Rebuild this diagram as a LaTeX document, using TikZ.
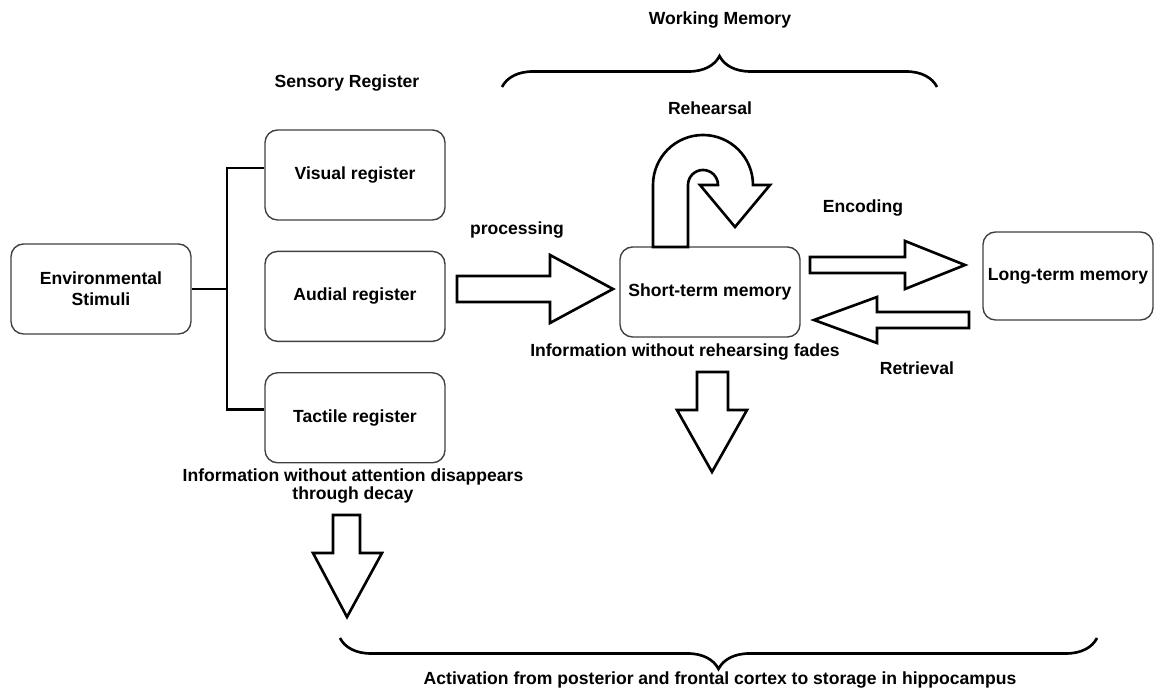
\documentclass[tikz,border=0pt]{standalone}
\usepackage{fontspec}
\setmainfont{Liberation Sans}
\usetikzlibrary{positioning,decorations.pathreplacing}

\begin{document}
\begin{tikzpicture}[
    x=0.02cm, y=-0.02cm,
    font=\bfseries\fontsize{10}{12}\selectfont,
    box/.style={draw=black!75, line width=0.8pt, rounded corners=0.25cm, align=center, minimum height=1.8cm, minimum width=3.6cm},
    link/.style={line width=1.6pt},
    hollow/.style={draw, line width=1.5pt, fill=white, line join=miter},
    brace/.style={decorate, decoration={brace, amplitude=0.62cm}, line width=1.5pt},
    lbl/.style={align=center, inner sep=1pt}
  ]
    \useasboundingbox (0,0) rectangle (1154,688);

    % boxes
    \node[box] (env) at (101,289) {Environmental\\Stimuli};
    \node[box] (vis) at (355,175) {Visual register};
    \node[box, below=0.6cm of vis] (aud) {Audial register};
    \node[box, below=0.6cm of aud] (tac) {Tactile register};
    \node[box] (stm) at (710,292) {Short-term memory};
    \node[box, minimum width=3.4cm, minimum height=1.76cm, inner xsep=0pt] (ltm) at (1068,276) {Long-term memory};

    % labels
    \node[lbl] (wmlbl) at (720,20) {Working Memory};
    \node[lbl] (srlbl) at (347,83) {Sensory Register};
    \node[lbl] (rehlbl) at (710,108) {Rehearsal};
    \node[lbl] (proclbl) at (517,230) {processing};
    \node[lbl] (enclbl) at (863,208) {Encoding};
    \node[lbl] (retlbl) at (917,368) {Retrieval};
    \node[lbl] (fadelbl) at (685,352) {Information without rehearsing fades};
    \node[lbl, font=\bfseries\fontsize{10}{8.5}\selectfont] (decaylbl) at (353,486) {Information without attention disappears\\through decay};
    \node[lbl] (actlbl) at (720,680) {Activation from posterior and frontal cortex to storage in hippocampus};

    % stimuli to registers
    \coordinate (fork) at (227,289);
    \draw[link] (env.east) -- (fork);
    \draw[link] ([yshift=0.14cm]vis.west) -| (fork) |- ([yshift=0.16cm]tac.west);

    % block arrows
    \draw[hollow] (457,276) -- (550,276) -- (550,255) -- (613,289) -- (550,323) -- (550,302) -- (457,302) -- cycle;
    \draw[hollow] (810,257) -- (905,257) -- (905,241) -- (965,265) -- (905,289) -- (905,273) -- (810,273) -- cycle;
    \draw[hollow] (969,312) -- (877,312) -- (877,297) -- (814,320) -- (877,343) -- (877,328) -- (969,328) -- cycle;
    \draw[hollow] (697,372) -- (728,372) -- (728,410) -- (747,410) -- (712,472) -- (677,410) -- (697,410) -- cycle;
    \draw[hollow] (333,515) -- (360,515) -- (360,553) -- (382,553) -- (347,617) -- (313,553) -- (333,553) -- cycle;

    % rehearsal loop
    \draw[hollow] (653,247) -- (653,185) arc[start angle=180, end angle=360, radius=50]
      -- (770,185) -- (735,227) -- (700,185) -- (718,185)
      arc[start angle=360, end angle=180, radius=15] -- (688,247) -- cycle;

    % braces
    \draw[brace] (502,87) -- (937,87);
    \draw[brace] (1097,638) -- (340,638);
  \end{tikzpicture}
\end{document}
